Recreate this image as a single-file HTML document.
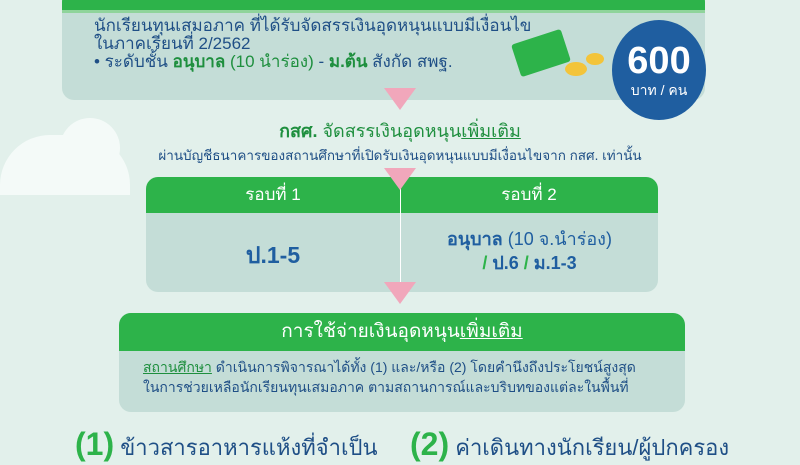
<html><head><style>
body{margin:0;width:800px;height:445px;overflow:hidden;background:#e2f0eb;font-family:"Liberation Sans","Noto Sans CJK SC",sans-serif;position:relative}
.a{position:absolute}
.tri{position:absolute;width:0;height:0;border-left:16px solid transparent;border-right:16px solid transparent;border-top:22px solid #f1a7bb}
</style></head><body>
<div class="a" style="left:0;top:135px;width:130px;height:60px;background:#f4faf8;border-radius:50px 50px 0 0"></div>
<div class="a" style="left:60px;top:118px;width:60px;height:60px;background:#f4faf8;border-radius:50%"></div>
<div class="a" style="left:62px;top:-10px;width:643px;height:110px;background:#c4ddd7;border-radius:12px;overflow:hidden">
 <div style="height:20px;background:#2db34a;border-bottom:3px solid #8fd49b"></div>
 <div style="position:absolute;left:32px;top:27px;font-size:17px;color:#1f4f86;line-height:18px">นักเรียนทุนเสมอภาค ที่ได้รับจัดสรรเงินอุดหนุนแบบมีเงื่อนไข<br>ในภาคเรียนที่ 2/2562<br>• ระดับชั้น <b style="color:#1e8f3e">อนุบาล</b> <span style="color:#1e8f3e">(10 นำร่อง)</span> - <b style="color:#1e8f3e">ม.ต้น</b> สังกัด สพฐ.</div>
</div>
<div class="a" style="left:515px;top:36px;width:52px;height:34px;background:#2db34a;transform:rotate(-18deg);border-radius:3px"></div>
<div class="a" style="left:565px;top:62px;width:22px;height:14px;background:#f3c43a;border-radius:50%"></div>
<div class="a" style="left:586px;top:53px;width:18px;height:12px;background:#f3c43a;border-radius:50%"></div>
<div class="a" style="left:612px;top:20px;width:94px;height:100px;background:#1f5ea0;border-radius:50%;color:#fff;text-align:center">
 <div style="font-size:38px;font-weight:bold;margin-top:22px;line-height:38px">600</div><div style="font-size:14px">บาท / คน</div></div>
<div class="tri" style="left:384px;top:88px"></div>
<div class="a" style="left:0;width:800px;top:116px;text-align:center;font-size:18px;color:#1e8f3e;font-weight:bold">กสศ. <span style="font-weight:normal">จัดสรรเงินอุดหนุน<u>เพิ่มเติม</u></span></div>
<div class="a" style="left:0;width:800px;top:144px;text-align:center;font-size:13.5px;color:#1f4f86">ผ่านบัญชีธนาคารของสถานศึกษาที่เปิดรับเงินอุดหนุนแบบมีเงื่อนไขจาก กสศ. เท่านั้น</div>
<div class="a" style="left:146px;top:177px;width:512px;height:115px;background:#c4ddd7;border-radius:12px;overflow:hidden">
 <div style="height:36px;background:#2db34a;color:#fff;font-size:17px;display:flex"><div style="width:254px;text-align:center;line-height:36px">รอบที่ 1</div><div style="flex:1;text-align:center;line-height:36px">รอบที่ 2</div></div>
 <div style="position:absolute;left:254px;top:0;width:1px;height:115px;background:#fff"></div>
 <div style="position:absolute;left:0;width:254px;top:61px;text-align:center;font-size:23px;font-weight:bold;color:#1f5ea0">ป.1-5</div>
 <div style="position:absolute;left:255px;right:0;top:50px;text-align:center;font-size:18px;color:#1f5ea0;line-height:24px"><b>อนุบาล</b> (10 จ.นำร่อง)<br><b><span style="color:#2db34a">/</span> ป.6 <span style="color:#2db34a">/</span> ม.1-3</b></div>
</div>
<div class="tri" style="left:384px;top:168px"></div>
<div class="tri" style="left:384px;top:282px"></div>
<div class="a" style="left:119px;top:313px;width:566px;height:99px;background:#c4ddd7;border-radius:12px;overflow:hidden">
 <div style="height:38px;background:#2db34a;color:#fff;font-size:19px;text-align:center;line-height:38px">การใช้จ่ายเงินอุดหนุน<u>เพิ่มเติม</u></div>
 <div style="position:absolute;left:24px;top:44px;font-size:14px;color:#1f4f86;line-height:20px;white-space:nowrap"><u style="color:#1e8f3e">สถานศึกษา</u> ดำเนินการพิจารณาได้ทั้ง (1) และ/หรือ (2) โดยคำนึงถึงประโยชน์สูงสุด<br>ในการช่วยเหลือนักเรียนทุนเสมอภาค ตามสถานการณ์และบริบทของแต่ละในพื้นที่</div>
</div>
<div class="a" style="left:75px;top:426px;font-size:22px;color:#1f4f86"><b style="color:#2db34a;font-size:32px">(1)</b> ข้าวสารอาหารแห้งที่จำเป็น</div>
<div class="a" style="left:410px;top:426px;font-size:22px;color:#1f4f86"><b style="color:#2db34a;font-size:32px">(2)</b> ค่าเดินทางนักเรียน/ผู้ปกครอง</div>
</body></html>
